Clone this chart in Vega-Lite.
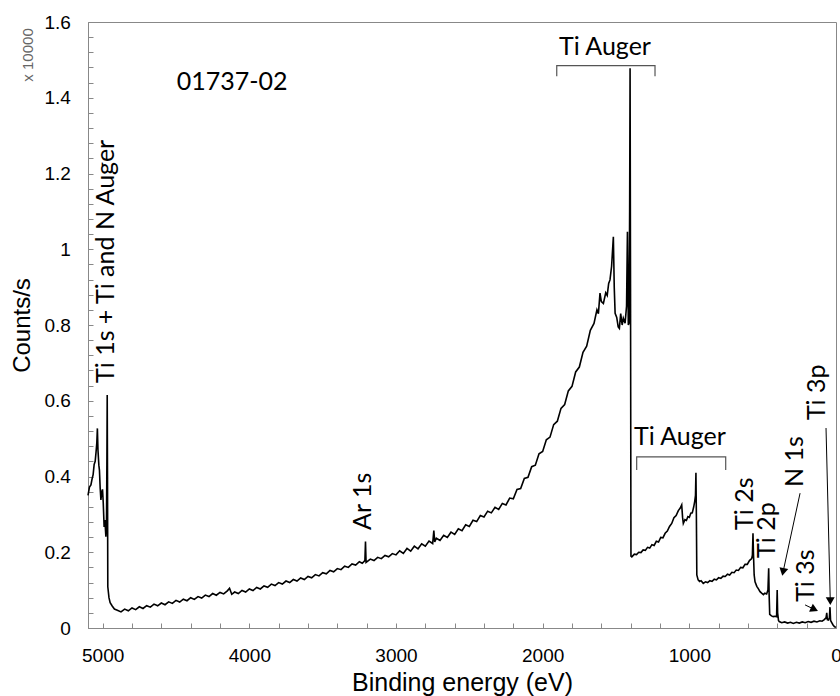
{
  "$schema": "https://vega.github.io/schema/vega-lite/v6.json",
  "width": 748,
  "height": 606,
  "autosize": "none",
  "padding": {"left": 88, "top": 22, "right": 4, "bottom": 68},
  "background": "white",
  "config": {
    "view": {"stroke": "#888", "strokeWidth": 1},
    "axis": {
      "domainColor": "#888",
      "tickColor": "#888",
      "tickSize": -5,
      "grid": false,
      "labelFont": "Liberation Sans",
      "labelFontSize": 19,
      "labelColor": "black",
      "titleFont": "Liberation Sans",
      "titleFontSize": 24,
      "titleFontWeight": "normal",
      "titleColor": "black",
      "labelOverlap": false,
      "labelFlush": false
    }
  },
  "datasets": {
    "spectrum": [
      {"x":5100,"y":0.35},{"x":5090,"y":0.372},{"x":5080,"y":0.378},{"x":5073,"y":0.392},{"x":5065,"y":0.405},{"x":5058,"y":0.432},{"x":5051,"y":0.44},{"x":5045,"y":0.465},{"x":5040,"y":0.488},{"x":5036,"y":0.527},{"x":5032,"y":0.47},{"x":5026,"y":0.43},{"x":5022,"y":0.417},{"x":5017,"y":0.37},{"x":5012,"y":0.338},{"x":5006,"y":0.36},{"x":5001,"y":0.366},{"x":4996,"y":0.33},{"x":4990,"y":0.267},{"x":4985,"y":0.285},{"x":4978,"y":0.241},{"x":4974,"y":0.27},{"x":4971,"y":0.45},{"x":4969,"y":0.615},{"x":4967,"y":0.4},{"x":4965,"y":0.109},{"x":4957,"y":0.08},{"x":4949,"y":0.067},{"x":4935,"y":0.058},{"x":4920,"y":0.05},
      {"x":4900,"y":0.047},{"x":4875,"y":0.0425},{"x":4850,"y":0.05},{"x":4825,"y":0.0455},{"x":4800,"y":0.053},{"x":4775,"y":0.0485},{"x":4750,"y":0.056},{"x":4725,"y":0.0515},{"x":4700,"y":0.059},{"x":4675,"y":0.055},{"x":4650,"y":0.063},{"x":4625,"y":0.0585},{"x":4600,"y":0.066},{"x":4575,"y":0.0615},{"x":4550,"y":0.069},{"x":4525,"y":0.065},{"x":4500,"y":0.073},{"x":4475,"y":0.0685},{"x":4450,"y":0.076},{"x":4425,"y":0.072},{"x":4400,"y":0.08},{"x":4375,"y":0.0755},{"x":4350,"y":0.083},{"x":4325,"y":0.079},{"x":4300,"y":0.087},{"x":4275,"y":0.083},{"x":4250,"y":0.091},{"x":4225,"y":0.0865},{"x":4200,"y":0.094},{"x":4175,"y":0.09},{"x":4150,"y":0.098},{"x":4135,"y":0.105},{"x":4120,"y":0.089},{"x":4100,"y":0.095},{"x":4075,"y":0.091},{"x":4050,"y":0.099},{"x":4025,"y":0.095},{"x":4000,"y":0.103},{"x":3975,"y":0.099},{"x":3950,"y":0.107},{"x":3925,"y":0.103},{"x":3900,"y":0.111},{"x":3875,"y":0.1075},{"x":3850,"y":0.116},{"x":3825,"y":0.112},{"x":3800,"y":0.12},{"x":3775,"y":0.116},{"x":3750,"y":0.124},{"x":3725,"y":0.12},{"x":3700,"y":0.128},{"x":3675,"y":0.124},{"x":3650,"y":0.132},{"x":3625,"y":0.128},{"x":3600,"y":0.136},{"x":3575,"y":0.1325},{"x":3550,"y":0.141},{"x":3525,"y":0.1375},{"x":3500,"y":0.146},{"x":3475,"y":0.143},{"x":3450,"y":0.152},{"x":3425,"y":0.1485},{"x":3400,"y":0.157},{"x":3375,"y":0.154},{"x":3350,"y":0.163},{"x":3325,"y":0.16},{"x":3300,"y":0.169},{"x":3275,"y":0.166},{"x":3250,"y":0.175},{"x":3230,"y":0.171},{"x":3212,"y":0.178},{"x":3208,"y":0.228},{"x":3204,"y":0.173},{"x":3175,"y":0.182},{"x":3150,"y":0.178},{"x":3125,"y":0.1865},{"x":3100,"y":0.183},{"x":3075,"y":0.1915},{"x":3050,"y":0.188},{"x":3025,"y":0.1965},{"x":3000,"y":0.193},{"x":2975,"y":0.204},{"x":2950,"y":0.197},{"x":2925,"y":0.21},{"x":2900,"y":0.203},{"x":2875,"y":0.216},{"x":2850,"y":0.209},{"x":2825,"y":0.2225},{"x":2800,"y":0.216},{"x":2775,"y":0.2295},{"x":2750,"y":0.223},{"x":2742,"y":0.257},{"x":2736,"y":0.227},{"x":2725,"y":0.237},{"x":2700,"y":0.231},{"x":2675,"y":0.245},{"x":2650,"y":0.239},{"x":2625,"y":0.253},{"x":2600,"y":0.247},{"x":2575,"y":0.262},{"x":2550,"y":0.257},{"x":2525,"y":0.2725},{"x":2500,"y":0.268},{"x":2475,"y":0.2845},{"x":2450,"y":0.281},{"x":2425,"y":0.297},{"x":2400,"y":0.293},{"x":2375,"y":0.3085},{"x":2350,"y":0.304},{"x":2325,"y":0.3185},{"x":2300,"y":0.313},{"x":2275,"y":0.329},{"x":2250,"y":0.325},{"x":2225,"y":0.343},{"x":2200,"y":0.341},
      {"x":2175,"y":0.366},{"x":2150,"y":0.368},{"x":2125,"y":0.395},{"x":2100,"y":0.398},{"x":2075,"y":0.426},{"x":2050,"y":0.43},{"x":2025,"y":0.46},{"x":2000,"y":0.466},{"x":1975,"y":0.497},{"x":1950,"y":0.504},{"x":1925,"y":0.537},{"x":1900,"y":0.546},{"x":1875,"y":0.58},{"x":1850,"y":0.59},{"x":1825,"y":0.626},{"x":1800,"y":0.638},{"x":1775,"y":0.676},{"x":1750,"y":0.689},{"x":1725,"y":0.728},{"x":1700,"y":0.744},{"x":1675,"y":0.786},{"x":1650,"y":0.804},
      {"x":1630,"y":0.84},{"x":1620,"y":0.83},{"x":1609,"y":0.884},{"x":1600,"y":0.862},{"x":1586,"y":0.857},{"x":1570,"y":0.885},{"x":1560,"y":0.878},{"x":1550,"y":0.91},{"x":1541,"y":0.919},{"x":1530,"y":0.955},{"x":1518,"y":1.033},{"x":1512,"y":0.9},{"x":1506,"y":0.831},{"x":1495,"y":0.82},{"x":1485,"y":0.795},{"x":1477,"y":0.791},{"x":1468,"y":0.83},{"x":1458,"y":0.8},{"x":1450,"y":0.818},{"x":1438,"y":0.805},{"x":1428,"y":0.85},{"x":1422,"y":1.046},{"x":1416,"y":0.8},{"x":1411,"y":0.805},{"x":1407,"y":1.1},{"x":1404,"y":1.478},{"x":1401,"y":0.9},{"x":1398,"y":0.19},
      {"x":1392,"y":0.188},{"x":1375,"y":0.195},{"x":1360,"y":0.194},{"x":1345,"y":0.2},{"x":1330,"y":0.199},{"x":1315,"y":0.206},{"x":1300,"y":0.205},{"x":1285,"y":0.213},{"x":1270,"y":0.211},{"x":1255,"y":0.22},{"x":1240,"y":0.218},{"x":1225,"y":0.229},{"x":1210,"y":0.227},{"x":1195,"y":0.239},{"x":1180,"y":0.238},{"x":1165,"y":0.25},{"x":1150,"y":0.256},{"x":1135,"y":0.268},{"x":1120,"y":0.276},{"x":1105,"y":0.291},{"x":1090,"y":0.297},{"x":1075,"y":0.31},{"x":1063,"y":0.316},{"x":1052,"y":0.325},{"x":1046,"y":0.292},{"x":1041,"y":0.276},{"x":1030,"y":0.286},{"x":1020,"y":0.284},{"x":1010,"y":0.294},{"x":1000,"y":0.292},{"x":990,"y":0.303},{"x":980,"y":0.304},{"x":970,"y":0.32},{"x":963,"y":0.335},{"x":958,"y":0.35},{"x":955,"y":0.41},{"x":952,"y":0.3},{"x":949,"y":0.14},
      {"x":940,"y":0.127},{"x":930,"y":0.123},{"x":920,"y":0.125},{"x":905,"y":0.118},{"x":890,"y":0.122},{"x":875,"y":0.12},{"x":860,"y":0.125},{"x":845,"y":0.123},{"x":830,"y":0.129},{"x":815,"y":0.127},{"x":800,"y":0.133},{"x":785,"y":0.131},{"x":770,"y":0.137},{"x":755,"y":0.136},{"x":740,"y":0.142},{"x":725,"y":0.14},{"x":710,"y":0.147},{"x":695,"y":0.146},{"x":680,"y":0.153},{"x":665,"y":0.152},{"x":650,"y":0.16},{"x":635,"y":0.159},{"x":620,"y":0.168},{"x":605,"y":0.168},{"x":590,"y":0.178},{"x":575,"y":0.183},{"x":570,"y":0.192},{"x":566,"y":0.25},{"x":563,"y":0.2},{"x":558,"y":0.14},{"x":552,"y":0.122},{"x":540,"y":0.11},{"x":530,"y":0.104},{"x":518,"y":0.096},{"x":507,"y":0.092},{"x":495,"y":0.088},{"x":485,"y":0.092},{"x":473,"y":0.09},{"x":464,"y":0.1},{"x":459,"y":0.158},{"x":456,"y":0.09},{"x":452,"y":0.036},{"x":440,"y":0.032},{"x":428,"y":0.03},{"x":416,"y":0.031},{"x":405,"y":0.03},{"x":401,"y":0.1},{"x":398,"y":0.04},{"x":392,"y":0.02},{"x":387,"y":0.017},{"x":370,"y":0.014},{"x":350,"y":0.016},{"x":330,"y":0.013},{"x":310,"y":0.015},{"x":291,"y":0.012},{"x":270,"y":0.015},{"x":250,"y":0.013},{"x":230,"y":0.016},{"x":210,"y":0.014},{"x":190,"y":0.017},{"x":170,"y":0.015},{"x":150,"y":0.018},{"x":130,"y":0.016},{"x":110,"y":0.019},{"x":95,"y":0.018},{"x":80,"y":0.022},{"x":68,"y":0.027},{"x":63,"y":0.04},{"x":59,"y":0.022},{"x":52,"y":0.021},{"x":45,"y":0.027},{"x":41,"y":0.055},{"x":37,"y":0.02},{"x":30,"y":0.015},{"x":20,"y":0.008},{"x":10,"y":0.003},{"x":0,"y":0.002}
    ],
    "brackets": [
      {"b":"top","o":1,"x":1904,"y":1.457},{"b":"top","o":2,"x":1904,"y":1.485},{"b":"top","o":3,"x":1234,"y":1.485},{"b":"top","o":4,"x":1234,"y":1.457},
      {"b":"mid","o":1,"x":1359,"y":0.417},{"b":"mid","o":2,"x":1359,"y":0.452},{"b":"mid","o":3,"x":752,"y":0.452},{"b":"mid","o":4,"x":752,"y":0.417}
    ],
    "arrows": [
      {"name":"N 1s","x":245,"y":0.356,"x2":361,"y2":0.148},
      {"name":"Ti 3p","x":68,"y":0.528,"x2":39,"y2":0.071},
      {"name":"Ti 3s","x":211,"y":0.061,"x2":147,"y2":0.049}
    ],
    "heads": [
      {"name":"N 1s","x":361,"y":0.148},
      {"name":"Ti 3p","x":39,"y":0.071},
      {"name":"Ti 3s","x":147,"y":0.049}
    ],
    "vlabels": [
      {"label":"Ti 1s + Ti and N Auger","x":4977,"y":0.647},
      {"label":"Ar 1s","x":3225,"y":0.259},
      {"label":"Ti 2s","x":620,"y":0.259},
      {"label":"Ti 2p","x":470,"y":0.185},
      {"label":"N 1s","x":280,"y":0.372},
      {"label":"Ti 3s","x":205,"y":0.069},
      {"label":"Ti 3p","x":130,"y":0.549}
    ],
    "hlabels": [
      {"label":"01737-02","x":4118,"y":1.42},
      {"label":"Ti Auger","x":1575,"y":1.513},
      {"label":"Ti Auger","x":1064,"y":0.483}
    ],
    "scale": [
      {"label":"x 10000","x":5509,"y":1.513}
    ]
  },
  "encoding": {
    "x": {
      "field": "x", "type": "quantitative",
      "scale": {"domain": [0, 5100], "reverse": true, "nice": false, "zero": false},
      "axis": {
        "title": "Binding energy (eV)",
        "titleFontSize": 25,
        "values": [0,200,400,600,800,1000,1200,1400,1600,1800,2000,2200,2400,2600,2800,3000,3200,3400,3600,3800,4000,4200,4400,4600,4800,5000],
        "labelExpr": "datum.value % 1000 == 0 ? format(datum.value, 'd') : ''",
        "labelPadding": 23,
        "titlePadding": 5
      }
    },
    "y": {
      "field": "y", "type": "quantitative",
      "scale": {"domain": [0, 1.6], "nice": false},
      "axis": {
        "title": "Counts/s",
        "values": [0,0.04,0.08,0.12,0.16,0.2,0.24,0.28,0.32,0.36,0.4,0.44,0.48,0.52,0.56,0.6,0.64,0.68,0.72,0.76,0.8,0.84,0.88,0.92,0.96,1,1.04,1.08,1.12,1.16,1.2,1.24,1.28,1.32,1.36,1.4,1.44,1.48,1.52,1.56,1.6],
        "labelExpr": "abs(datum.value*5 - round(datum.value*5)) < 0.001 ? format(datum.value, '.1~f') : ''",
        "labelPadding": 22.7,
        "titlePadding": 9
      }
    }
  },
  "layer": [
    {
      "data": {"name": "spectrum"},
      "mark": {"type": "line", "color": "black", "strokeWidth": 1.6}
    },
    {
      "data": {"name": "brackets"},
      "mark": {"type": "line", "color": "#555", "strokeWidth": 1.2},
      "encoding": {"detail": {"field": "b"}, "order": {"field": "o", "type": "quantitative"}}
    },
    {
      "data": {"name": "arrows"},
      "mark": {"type": "rule", "color": "black", "strokeWidth": 1},
      "encoding": {"x2": {"field": "x2"}, "y2": {"field": "y2"}}
    },
    {
      "data": {"name": "heads"},
      "transform": [{"filter": "datum.name == 'N 1s'"}],
      "mark": {"type": "point", "shape": "triangle-down", "filled": true, "color": "black", "size": 80, "angle": 12, "opacity": 1}
    },
    {
      "data": {"name": "heads"},
      "transform": [{"filter": "datum.name == 'Ti 3p'"}],
      "mark": {"type": "point", "shape": "triangle-down", "filled": true, "color": "black", "size": 80, "angle": -1, "opacity": 1}
    },
    {
      "data": {"name": "heads"},
      "transform": [{"filter": "datum.name == 'Ti 3s'"}],
      "mark": {"type": "point", "shape": "triangle-right", "filled": true, "color": "black", "size": 80, "angle": 25, "opacity": 1}
    },
    {
      "data": {"name": "vlabels"},
      "mark": {"type": "text", "angle": 270, "align": "left", "baseline": "middle", "font": "Lato", "fontSize": 25, "color": "black"},
      "encoding": {"text": {"field": "label"}}
    },
    {
      "data": {"name": "hlabels"},
      "mark": {"type": "text", "align": "center", "baseline": "alphabetic", "font": "Lato", "fontSize": 25, "color": "black"},
      "encoding": {"text": {"field": "label"}}
    },
    {
      "data": {"name": "scale"},
      "mark": {"type": "text", "angle": 270, "align": "center", "baseline": "middle", "font": "Liberation Sans", "fontSize": 15, "color": "#666"},
      "encoding": {"text": {"field": "label"}}
    }
  ]
}
